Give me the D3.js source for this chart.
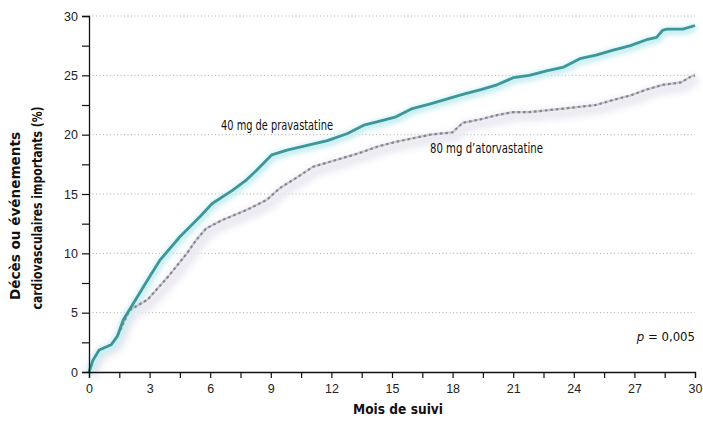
<!DOCTYPE html>
<html>
<head>
    <meta charset="utf-8">
    <title>Pravastatine vs atorvastatine</title>
    <script src="https://d3js.org/d3.v7.min.js"></script>
    <style>
        body { margin: 0; background: #fff; }
        svg { display: block; font-family: "DejaVu Sans Condensed", "Liberation Sans Narrow", sans-serif; font-stretch: condensed; }
        .tick text { font-size: 12.5px; fill: #222; }
    </style>
</head>
<body>
    <svg width="703" height="423"></svg>

    <script>
        // months / cumulative event rate (%)
        const pravaMonths = [0, 0.2, 0.5, 1.1, 1.4, 1.7, 2.2, 2.9, 3.5, 4.5, 5.5, 6.1, 7.1, 7.8, 8.3, 9.05, 9.8, 10.8, 11.8, 12.8, 13.6, 14.3, 15.2, 16.0, 16.9, 17.7, 18.5, 19.4, 20.2, 21.0, 21.8, 22.7, 23.5, 24.3, 25.1, 25.9, 26.8, 27.6, 28.1, 28.4, 28.6, 29.4, 30];
        const pravaRate = [0, 1.0, 1.85, 2.3, 3.0, 4.4, 5.8, 7.75, 9.4, 11.4, 13.1, 14.2, 15.3, 16.2, 17.0, 18.3, 18.7, 19.1, 19.5, 20.1, 20.8, 21.1, 21.5, 22.2, 22.6, 23.0, 23.4, 23.8, 24.2, 24.8, 25.0, 25.4, 25.7, 26.4, 26.7, 27.1, 27.5, 28.0, 28.2, 28.8, 28.9, 28.9, 29.2];

        const atorMonths = [0, 0.2, 0.5, 1.1, 1.4, 2.0, 2.9, 3.9, 4.85, 5.3, 5.8, 6.6, 7.8, 8.8, 9.45, 10.3, 11.1, 11.9, 13.3, 14.3, 15.2, 16.9, 18.0, 18.5, 19.4, 20.2, 21.0, 21.8, 23.5, 25.1, 25.9, 26.8, 27.6, 28.4, 29.3, 29.8, 30];
        const atorRate = [0, 1.0, 1.85, 2.3, 3.0, 5.2, 6.1, 8.0, 10.0, 11.1, 12.1, 12.8, 13.65, 14.5, 15.5, 16.4, 17.3, 17.7, 18.4, 19.0, 19.4, 20.0, 20.2, 21.0, 21.3, 21.65, 21.9, 21.9, 22.2, 22.5, 22.9, 23.3, 23.8, 24.2, 24.4, 24.9, 25.0];

        const xTicks = [0, 3, 6, 9, 12, 15, 18, 21, 24, 27, 30];
        const yTicks = [0, 5, 10, 15, 20, 25, 30];

        const svg = d3.select("svg");
        const margin = { top: 16, right: 8, bottom: 51, left: 89 };
        const width = 695 - margin.left;
        const height = 372 - margin.top;

        const x = d3.scaleLinear().domain([0, 30]).range([margin.left, margin.left + width]);
        const y = d3.scaleLinear().domain([0, 30]).range([margin.top + height, margin.top]);

        // soft blur used for the printed halo
        const defs = svg.append("defs");
        defs.append("filter").attr("id", "blur").attr("x", "-5%").attr("y", "-5%")
            .attr("width", "110%").attr("height", "110%")
            .append("feGaussianBlur").attr("stdDeviation", 2.5);
        defs.append("filter").attr("id", "blur2").attr("x", "-5%").attr("y", "-5%")
            .attr("width", "110%").attr("height", "110%")
            .append("feGaussianBlur").attr("stdDeviation", 3.5);

        // dotted gridlines
        svg.append("g")
            .selectAll("line")
            .data(yTicks.filter(d => d > 0))
            .join("line")
            .attr("x1", x(0)).attr("x2", x(30))
            .attr("y1", d => y(d)).attr("y2", d => y(d))
            .attr("stroke", "#aaa")
            .attr("stroke-width", 1)
            .attr("stroke-dasharray", "1,2.5");

        const prava = pravaMonths.map((m, i) => [m, pravaRate[i]]);
        const ator = atorMonths.map((m, i) => [m, atorRate[i]]);

        const line = d3.line().x(d => x(d[0])).y(d => y(d[1]));

        // halos
        svg.append("path").datum(ator)
            .attr("fill", "none").attr("stroke", "#ebe8f1").attr("stroke-width", 11)
            .attr("transform", "translate(3,4)").attr("filter", "url(#blur2)").attr("d", line);
        svg.append("path").datum(prava)
            .attr("fill", "none").attr("stroke", "#c9eef0").attr("stroke-width", 8)
            .attr("transform", "translate(1,2)").attr("filter", "url(#blur)").attr("d", line);

        // atorvastatin (dashed grey)
        svg.append("path").datum(ator)
            .attr("fill", "none").attr("stroke", "#c9c7d0").attr("stroke-width", 2.2)
            .attr("d", line);
        svg.append("path").datum(ator)
            .attr("fill", "none").attr("stroke", "#85848f").attr("stroke-width", 2.2)
            .attr("stroke-dasharray", "2.5,3").attr("d", line);

        // pravastatin (solid teal)
        svg.append("path").datum(prava)
            .attr("fill", "none").attr("stroke", "#3d979a").attr("stroke-width", 2.8)
            .attr("stroke-linejoin", "round").attr("d", line);

        // axes
        const xAxis = svg.append("g")
            .attr("transform", `translate(0,${y(0)})`)
            .call(d3.axisBottom(x).tickValues(d3.range(0, 30.1, 1.5)).tickSize(6)
                .tickFormat(d => xTicks.includes(d) ? d : ""));
        xAxis.select(".domain").attr("stroke", "#111").attr("stroke-width", 1.3);
        xAxis.selectAll(".tick line").attr("stroke", "#111").attr("stroke-width", 1.2);
        xAxis.selectAll(".tick text").attr("dy", "0.95em");

        const yAxis = svg.append("g")
            .attr("transform", `translate(${x(0)},0)`)
            .call(d3.axisLeft(y).tickValues(d3.range(0, 30.1, 2.5)).tickSize(7)
                .tickFormat(d => yTicks.includes(d) ? d : ""));
        yAxis.select(".domain").attr("stroke", "#111").attr("stroke-width", 1.3);
        yAxis.selectAll(".tick line").attr("stroke", "#111").attr("stroke-width", 1.2);
        yAxis.selectAll(".tick text").attr("x", -11);

        // axis titles
        svg.append("text")
            .attr("x", 398).attr("y", 414)
            .attr("text-anchor", "middle")
            .attr("font-size", 14.5).attr("font-weight", "bold").attr("fill", "#111")
            .attr("textLength", 90).attr("lengthAdjust", "spacingAndGlyphs")
            .text("Mois de suivi");

        svg.append("text")
            .attr("transform", "translate(20,216) rotate(-90)")
            .attr("text-anchor", "middle")
            .attr("font-size", 14).attr("font-weight", "bold").attr("fill", "#111")
            .attr("textLength", 168).attr("lengthAdjust", "spacingAndGlyphs")
            .text("Décès ou événements");
        svg.append("text")
            .attr("transform", "translate(42,208) rotate(-90)")
            .attr("text-anchor", "middle")
            .attr("font-size", 14).attr("font-weight", "bold").attr("fill", "#111")
            .attr("textLength", 203).attr("lengthAdjust", "spacingAndGlyphs")
            .text("cardiovasculaires importants (%)");

        // series labels
        svg.append("text")
            .attr("x", 221).attr("y", 130)
            .attr("font-size", 13.5).attr("fill", "#111")
            .attr("textLength", 112).attr("lengthAdjust", "spacingAndGlyphs")
            .text("40 mg de pravastatine");
        svg.append("text")
            .attr("x", 430).attr("y", 153)
            .attr("font-size", 13.5).attr("fill", "#111")
            .attr("textLength", 113).attr("lengthAdjust", "spacingAndGlyphs")
            .text("80 mg d\u2019atorvastatine");

        const pText = svg.append("text")
            .attr("x", 695).attr("y", 341)
            .attr("text-anchor", "end")
            .attr("font-size", 13).attr("fill", "#111");
        pText.append("tspan").attr("font-style", "italic").text("p");
        pText.append("tspan").text(" = 0,005");
    </script>
</body>
</html>
